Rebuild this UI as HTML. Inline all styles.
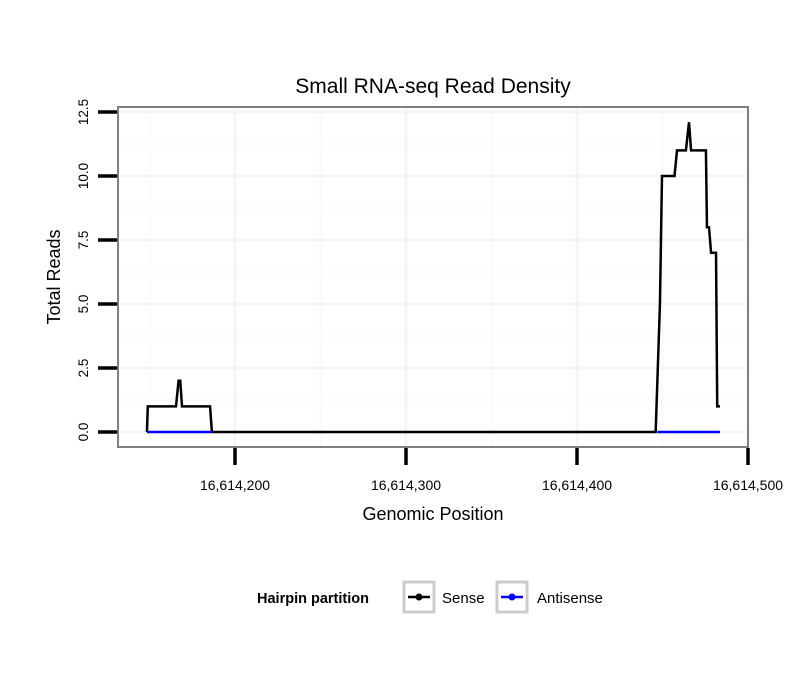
<!DOCTYPE html>
<html><head><meta charset="utf-8"><style>
body{margin:0;background:#fff;font-family:"Liberation Sans",sans-serif}
</style></head><body>
<svg id="c" width="810" height="690" xmlns="http://www.w3.org/2000/svg" font-family="Liberation Sans, sans-serif"></svg>
<script>
const xTicks=[16614200,16614300,16614400,16614500];
const xTickLabels=["16,614,200","16,614,300","16,614,400","16,614,500"];
const yTicks=[0,2.5,5,7.5,10,12.5];
const yTickLabels=["0.0","2.5","5.0","7.5","10.0","12.5"];
const senseX=[16614148.5,16614149,16614165.5,16614167,16614168,16614169,16614185.4,16614186.5,16614446,16614448.5,16614449.7,16614457,16614458.5,16614463.7,16614465.5,16614466.7,16614475.4,16614476,16614477.2,16614478.4,16614481.3,16614482,16614483.6];
const senseY=[0,1,1,2,2,1,1,0,0,5,10,10,11,11,12.1,11,11,8,8,7,7,1,1];
const antiX1=[16614148.5,16614186.5];
const antiY1=[0,0];
const antiX2=[16614447,16614483.6];
const antiY2=[0,0];
const svg=document.getElementById('c');
const NS='http://www.w3.org/2000/svg';
const X=v=>235+(v-16614200)*1.71;
const Y=v=>432-v*25.6;
function mk(t,a,p){const e=document.createElementNS(NS,t);for(const k in a)e.setAttribute(k,a[k]);(p||svg).appendChild(e);return e;}
let e=mk('rect',{x:118,y:107,width:630,height:340,fill:'#fff'});


for(let i=0;i<xTicks.length;i++){const m=xTicks[i]-50;if(X(m)>118)mk('line',{x1:X(m),x2:X(m),y1:107,y2:447,stroke:'#fafafa','stroke-width':2});}
for(let i=0;i<yTicks.length;i++){const m=yTicks[i]+1.25;if(Y(m)>107)mk('line',{x1:118,x2:748,y1:Y(m),y2:Y(m),stroke:'#fafafa','stroke-width':2});}
for(let i=0;i<xTicks.length;i++){mk('line',{x1:X(xTicks[i]),x2:X(xTicks[i]),y1:107,y2:447,stroke:'#f5f5f5','stroke-width':3});}
for(let i=0;i<yTicks.length;i++){mk('line',{x1:118,x2:748,y1:Y(yTicks[i]),y2:Y(yTicks[i]),stroke:'#f5f5f5','stroke-width':3});}
let d=senseX.map((v,i)=>(i?'L':'M')+X(v)+','+Y(senseY[i])).join('');
e=mk('path',{d:d,fill:'none',stroke:'#000','stroke-width':2.5});


[[antiX1,antiY1],[antiX2,antiY2]].forEach(s=>{
 const dd=s[0].map((v,i)=>(i?'L':'M')+X(v)+','+Y(s[1][i])).join('');
 const a=mk('path',{d:dd,fill:'none',stroke:'#0000ff','stroke-width':2.5});
 
 
});
mk('rect',{x:118,y:107,width:630,height:340,fill:'none',stroke:'#808080','stroke-width':2});
for(let i=0;i<xTicks.length;i++){
 mk('line',{x1:X(xTicks[i]),x2:X(xTicks[i]),y1:448,y2:465,stroke:'#000','stroke-width':3.5});
 const t=mk('text',{x:X(xTicks[i]),y:490,'text-anchor':'middle','font-size':14,fill:'#000'});t.textContent=xTickLabels[i];
 
 
}
for(let i=0;i<yTicks.length;i++){
 mk('line',{x1:98,x2:117,y1:Y(yTicks[i]),y2:Y(yTicks[i]),stroke:'#000','stroke-width':3.5});
 const t=mk('text',{x:88,y:Y(yTicks[i]),'text-anchor':'middle','font-size':13.5,fill:'#000',transform:`rotate(-90 88 ${Y(yTicks[i])})`});t.textContent=yTickLabels[i];
 
 
}
e=mk('text',{x:433,y:93,'text-anchor':'middle','font-size':21});e.textContent='Small RNA-seq Read Density';


e=mk('text',{x:433,y:520,'text-anchor':'middle','font-size':18});e.textContent='Genomic Position';


e=mk('text',{x:60,y:277,'text-anchor':'middle','font-size':18,transform:'rotate(-90 60 277)'});e.textContent='Total Reads';


e=mk('text',{x:257,y:603,'font-size':14.5,'font-weight':'bold'});e.textContent='Hairpin partition';


[['Sense','#000',402,442],['Antisense','#0000ff',495,537]].forEach(l=>{
 const g=mk('g',{});
 
 
 mk('rect',{x:l[2]+2,y:582,width:30,height:30,fill:'#fff',stroke:'#ccc','stroke-width':3},g);
 mk('line',{x1:l[2]+6,x2:l[2]+28,y1:597,y2:597,stroke:l[1],'stroke-width':2.5},g);
 mk('circle',{cx:l[2]+17,cy:597,r:3.5,fill:l[1]},g);
 const t=mk('text',{x:l[3],y:603,'font-size':15},g);t.textContent=l[0];
});
</script>
</body></html>
